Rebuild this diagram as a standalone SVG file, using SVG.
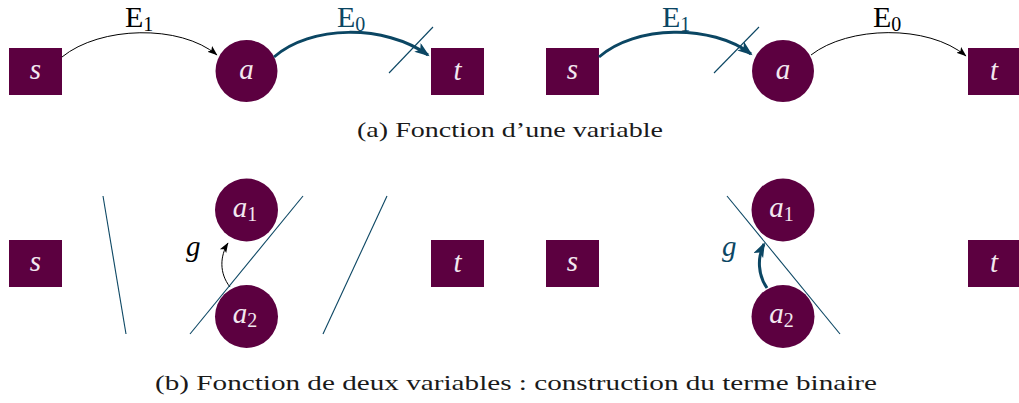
<svg xmlns="http://www.w3.org/2000/svg" width="1019" height="403" viewBox="0 0 1019 403">
<style>
.box{fill:#5c0040}
.thin{fill:none;stroke:#000;stroke-width:1}
.thick{fill:none;stroke:#0b4663;stroke-width:3}
.cut{fill:none;stroke:#0b4663;stroke-width:1.1}
</style>
<defs>
<marker id="ah" markerWidth="11" markerHeight="9" refX="9.5" refY="4.5" orient="auto" markerUnits="userSpaceOnUse"><path d="M0,0.8 L10,4.5 L0,8.2 L2.2,4.5 Z" fill="#000"/></marker>
<marker id="ahb" markerWidth="16" markerHeight="12" refX="13" refY="5.5" orient="auto" markerUnits="userSpaceOnUse"><path d="M0,0 L15,5.5 L0,11 L3.5,5.5 Z" fill="#0b4663"/></marker>
</defs>

<g fill="#f3e8f0" text-anchor="middle">
<g id="a-left-s"><rect class="box" x="9" y="48" width="53" height="47"/><text font-family="Liberation Serif" font-style="italic" font-size="29" x="35.5" y="79">s</text></g>
<g id="a-left-a"><circle class="box" cx="246.5" cy="71" r="31"/><text font-family="Liberation Serif" font-style="italic" font-size="29" x="246.5" y="79">a</text></g>
<g id="a-left-t"><rect class="box" x="431" y="48" width="53" height="47"/><text font-family="Liberation Serif" font-style="italic" font-size="29" x="457.5" y="80">t</text></g>
<g id="a-right-s"><rect class="box" x="546" y="48" width="53" height="47"/><text font-family="Liberation Serif" font-style="italic" font-size="29" x="572.5" y="79">s</text></g>
<g id="a-right-a"><circle class="box" cx="783" cy="71" r="31"/><text font-family="Liberation Serif" font-style="italic" font-size="29" x="783" y="79">a</text></g>
<g id="a-right-t"><rect class="box" x="968" y="48" width="53" height="47"/><text font-family="Liberation Serif" font-style="italic" font-size="29" x="994" y="80">t</text></g>
<g id="b-left-s"><rect class="box" x="9" y="240" width="53" height="47"/><text font-family="Liberation Serif" font-style="italic" font-size="29" x="35.5" y="271">s</text></g>
<g id="b-left-a1"><circle class="box" cx="246.5" cy="210" r="31.5"/><text font-family="Liberation Serif" font-style="italic" font-size="29" x="245" y="217">a<tspan font-style="normal" font-size="20" dy="4">1</tspan></text></g>
<g id="b-left-a2"><circle class="box" cx="246.5" cy="316.5" r="31.5"/><text font-family="Liberation Serif" font-style="italic" font-size="29" x="245" y="323">a<tspan font-style="normal" font-size="20" dy="4">2</tspan></text></g>
<g id="b-left-t"><rect class="box" x="431" y="240" width="53" height="47"/><text font-family="Liberation Serif" font-style="italic" font-size="29" x="457.5" y="272">t</text></g>
<g id="b-right-s"><rect class="box" x="546" y="240" width="53" height="47"/><text font-family="Liberation Serif" font-style="italic" font-size="29" x="572.5" y="271">s</text></g>
<g id="b-right-a1"><circle class="box" cx="783" cy="210" r="31.5"/><text font-family="Liberation Serif" font-style="italic" font-size="29" x="781.5" y="217">a<tspan font-style="normal" font-size="20" dy="4">1</tspan></text></g>
<g id="b-right-a2"><circle class="box" cx="783" cy="316.5" r="31.5"/><text font-family="Liberation Serif" font-style="italic" font-size="29" x="781.5" y="323">a<tspan font-style="normal" font-size="20" dy="4">2</tspan></text></g>
<g id="b-right-t"><rect class="box" x="968" y="240" width="53" height="47"/><text font-family="Liberation Serif" font-style="italic" font-size="29" x="994" y="272">t</text></g>
</g>

<g id="connectors">
<path class="thin" d="M62,57 C100,26 180,24 217,55" marker-end="url(#ah)"/>
<path class="thick" d="M274,57 C310,25 385,24 428,55" marker-end="url(#ahb)"/>
<path class="thick" d="M599,57 C635,25 712,24 751,54" marker-end="url(#ahb)"/>
<path class="thin" d="M811,55 C848,26 928,24 966,56" marker-end="url(#ah)"/>
<path class="thin" d="M230,287 C219,273 220,256 228,243" marker-end="url(#ah)"/>
<path class="thick" d="M767,288 C758,275 757,258 764,244" marker-end="url(#ahb)"/>
</g>

<g id="cuts">
<line class="cut" x1="389" y1="73" x2="433" y2="27"/>
<line class="cut" x1="714" y1="73" x2="759" y2="27"/>
<line class="cut" x1="103" y1="196" x2="126" y2="334"/>
<line class="cut" x1="190" y1="334" x2="303" y2="196"/>
<line class="cut" x1="323" y1="334" x2="387" y2="196"/>
<line class="cut" x1="727" y1="196" x2="840" y2="334"/>
</g>

<g id="labels">
<text font-family="Liberation Serif" font-size="30" x="125" y="27" fill="#000">E<tspan font-size="20" dy="4">1</tspan></text>
<text font-family="Liberation Serif" font-size="30" x="337" y="27" fill="#0b4663">E<tspan font-size="20" dy="4">0</tspan></text>
<text font-family="Liberation Serif" font-size="30" x="662" y="27" fill="#0b4663">E<tspan font-size="20" dy="4">1</tspan></text>
<text font-family="Liberation Serif" font-size="30" x="873" y="27" fill="#000">E<tspan font-size="20" dy="4">0</tspan></text>
<text font-family="Liberation Serif" font-size="29" x="186" y="256" font-style="italic" fill="#000">g</text>
<text font-family="Liberation Serif" font-size="29" x="722" y="256" font-style="italic" fill="#0b4663">g</text>
</g>

<g id="captions" fill="#1a1a1a">
<text font-family="Liberation Serif" font-size="22" x="357" y="137" textLength="306" lengthAdjust="spacingAndGlyphs">(a) Fonction d’une variable</text>
<text font-family="Liberation Serif" font-size="22" x="155" y="390" textLength="722" lengthAdjust="spacingAndGlyphs">(b) Fonction de deux variables : construction du terme binaire</text>
</g>
</svg>
